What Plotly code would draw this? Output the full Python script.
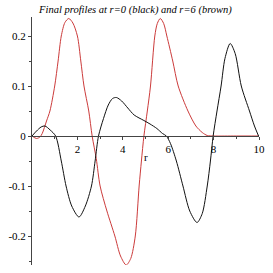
import plotly.graph_objects as go

# Black curve: profile at r=0
black_x = [0, 0.2, 0.4, 0.57, 0.8, 1.04, 1.29, 1.5, 1.75, 2.07, 2.35, 2.62, 2.78, 2.93,
           3.15, 3.36, 3.55, 3.72, 3.95, 4.22, 4.5, 4.93, 5.2, 5.5, 5.75, 5.92, 6.1, 6.36,
           6.65, 6.95, 7.27, 7.5, 7.72, 7.86, 7.98, 8.15, 8.33, 8.5, 8.73, 8.95, 9.22,
           9.58, 9.8, 9.98]
black_y = [0, 0.01, 0.018, 0.02, 0.012, 0, -0.05, -0.1, -0.14, -0.162, -0.14, -0.1, -0.05, 0,
           0.035, 0.062, 0.075, 0.077, 0.07, 0.056, 0.042, 0.031, 0.024, 0.015, 0.005, 0, -0.015, -0.05,
           -0.1, -0.15, -0.173, -0.155, -0.1, -0.05, 0, 0.05, 0.1, 0.155, 0.185, 0.165, 0.1,
           0.05, 0.02, 0]

# Brown (red) curve: profile at r=6
red_x = [0, 0.2, 0.35, 0.45, 0.64, 0.79, 1.0, 1.15, 1.29, 1.45, 1.62, 1.8, 2.0, 2.15, 2.29,
         2.5, 2.65, 2.83, 3.0, 3.3, 3.65, 3.9, 4.15, 4.35, 4.55, 4.72, 4.82, 4.93, 5.08,
         5.22, 5.41, 5.52, 5.65, 5.8, 5.94, 6.2, 6.44, 6.87, 7.22, 7.5, 7.72, 8.0, 9.0, 10.0]
red_y = [0, -0.005, -0.002, 0.005, 0.03, 0.05, 0.1, 0.15, 0.2, 0.227, 0.235, 0.226, 0.2, 0.15, 0.1,
         0.05, 0, -0.045, -0.1, -0.15, -0.2, -0.24, -0.258, -0.245, -0.2, -0.1, -0.05, 0, 0.05,
         0.1, 0.2, 0.225, 0.235, 0.225, 0.2, 0.15, 0.1, 0.05, 0.02, 0.007, 0.001, 0, 0, 0]

x_ticks = [2, 4, 6, 8, 10]
x_tick_labels = ["2", "4", "6", "8", "10"]
y_ticks = [-0.2, -0.1, 0, 0.1, 0.2]
y_tick_labels = ["-0.2", "-0.1", "0", "0.1", "0.2"]

title_text = "Final profiles at r=0 (black) and r=6 (brown)"
x_label = "r"

y_min, y_max = -0.258, 0.238
zero_pos = (0 - y_min) / (y_max - y_min)

serif = "Liberation Serif, Times New Roman, serif"

fig = go.Figure()
fig.add_trace(go.Scatter(x=red_x, y=red_y, mode="lines",
                         line=dict(color="#cc3b3b", width=1, shape="spline", smoothing=0.8),
                         showlegend=False, hoverinfo="skip"))
fig.add_trace(go.Scatter(x=black_x, y=black_y, mode="lines",
                         line=dict(color="#111111", width=1, shape="spline", smoothing=0.8),
                         showlegend=False, hoverinfo="skip"))

fig.update_layout(
    width=273, height=273,
    margin=dict(l=30, r=10, t=17, b=8),
    paper_bgcolor="white", plot_bgcolor="white",
    title=dict(text=title_text, x=135.5 / 273, xanchor="center",
               yref="container", y=1 - 9 / 273, yanchor="middle",
               font=dict(family=serif, size=10.5, color="black", style="italic")),
    xaxis=dict(range=[0, 10], anchor="free", position=zero_pos,
               showline=True, linecolor="#444444", linewidth=1,
               showgrid=False, zeroline=False,
               ticks="outside", ticklen=3, tickcolor="#444444",
               tickvals=x_ticks, ticktext=x_tick_labels,
               minor=dict(tickvals=[1, 3, 5, 7, 9], ticks="outside", ticklen=2, tickcolor="#444444"),
               tickfont=dict(family=serif, size=11, color="black")),
    yaxis=dict(range=[y_min, y_max],
               showline=True, linecolor="#444444", linewidth=1,
               showgrid=False, zeroline=False,
               ticks="outside", ticklen=3, tickcolor="#444444",
               tickvals=y_ticks, ticktext=y_tick_labels,
               minor=dict(tickvals=[-0.25, -0.15, -0.05, 0.05, 0.15], ticks="outside",
                          ticklen=2, tickcolor="#444444"),
               tickfont=dict(family=serif, size=11, color="black")),
    annotations=[dict(x=5.0, y=-0.042, xref="x", yref="y", text=x_label, showarrow=False,
                      font=dict(family=serif, size=11, color="black"))],
)

fig.write_html("out.html", config={"displayModeBar": False},
               post_script="document.body.style.margin='0';document.body.style.padding='0';")
